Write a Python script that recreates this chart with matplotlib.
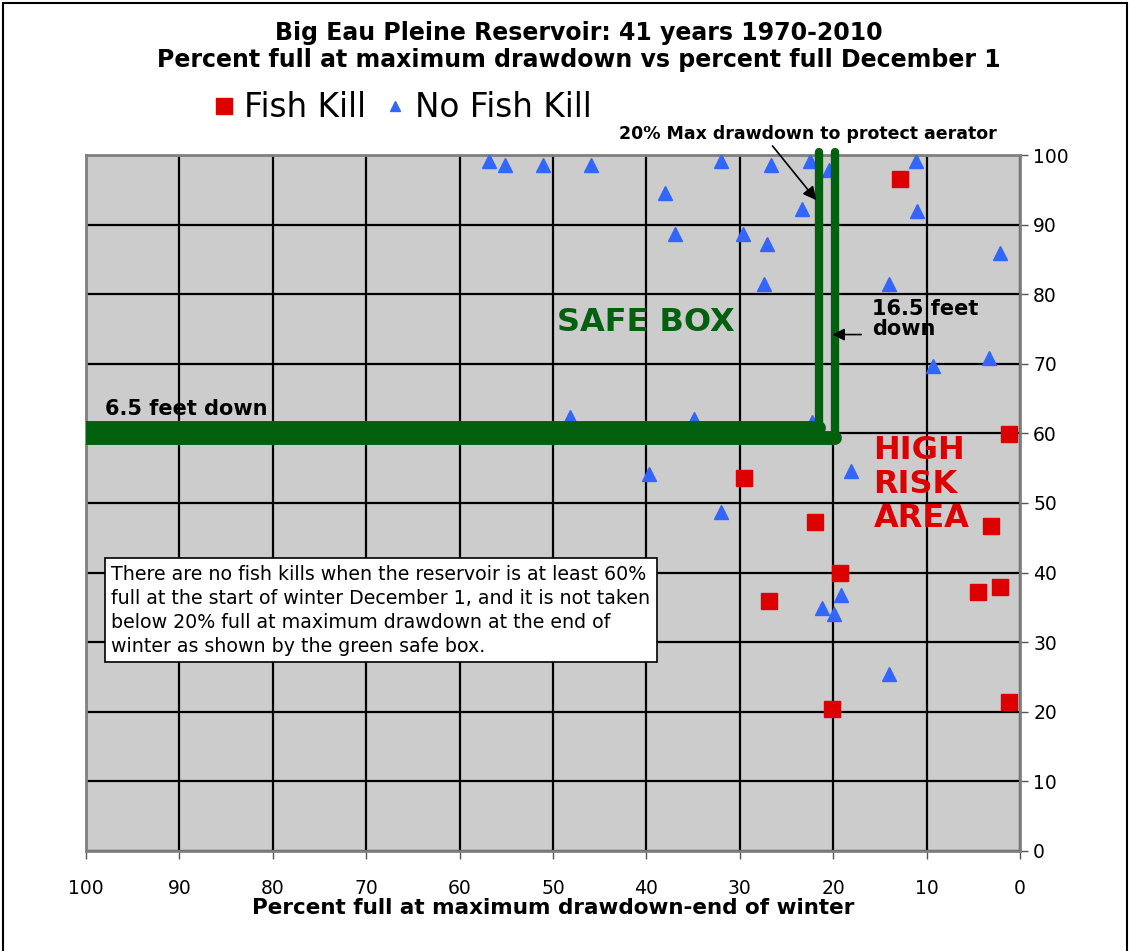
import matplotlib
matplotlib.use('Agg')
import matplotlib.pyplot as plt
import matplotlib.patches as pat

# percent full at max drawdown (x), percent full Dec 1 (y)
kill_x = [12.8, 1.2, 29.6, 21.9, 3.1, 19.3, 26.9, 4.5, 2.1, 20.1, 1.2]
kill_y = [96.5, 59.9, 53.6, 47.2, 46.7, 40.0, 35.9, 37.2, 37.9, 20.4, 21.4]

nokill_x = [56.9, 55.1, 51.1, 45.9, 32.0, 38.0, 36.9, 29.7, 26.7, 22.5,
            20.5, 11.1, 23.3, 11.0, 27.1, 2.1, 27.4, 14.0, 9.3, 3.3,
            22.3, 18.1, 32.0, 19.2, 21.2, 19.9, 14.0, 48.2, 34.9, 39.7]
nokill_y = [99.2, 98.6, 98.6, 98.6, 99.2, 94.5, 88.6, 88.6, 98.6, 99.2,
            97.8, 99.2, 92.3, 92.0, 87.2, 85.9, 81.5, 81.5, 69.7, 70.8,
            61.7, 54.6, 48.7, 36.8, 34.9, 34.1, 25.4, 62.3, 62.0, 54.1]

# safe box outline (two parallel strokes like the original)
box1_x = [100, 21.5, 21.5]
box1_y = [60.8, 60.8, 100.5]
box2_x = [100, 19.8, 19.8]
box2_y = [59.3, 59.3, 100.5]

ticks = [0, 10, 20, 30, 40, 50, 60, 70, 80, 90, 100]

green = '#03600f'
red = '#dd0000'
blue = '#3366ff'

fig = plt.figure(figsize=(11.3, 9.51), dpi=100)
ax = fig.add_axes([0.0761, 0.1052, 0.8266, 0.7318])
ax.set_facecolor('#cccccc')

ax.set_xlim(100, 0)
ax.set_ylim(0, 100)
ax.set_xticks(ticks)
ax.set_yticks(ticks)
ax.grid(True, color='black', linewidth=1.6)
ax.set_axisbelow(True)
ax.yaxis.tick_right()
ax.tick_params(axis='both', labelsize=13.5, length=6, width=1, color='#555555')
ax.tick_params(axis='x', pad=14)
for s in ax.spines.values():
    s.set_color('#808080')
    s.set_linewidth(2)

ax.plot(nokill_x, nokill_y, linestyle='none', marker='^', markersize=10,
        color=blue, label='No Fish Kill', zorder=3)
ax.plot(kill_x, kill_y, linestyle='none', marker='s', markersize=12,
        color=red, label='Fish Kill', zorder=3)

ax.plot(box1_x[:2], box1_y[:2], color=green, lw=10, solid_capstyle='round', zorder=4)
ax.plot(box2_x[:2], box2_y[:2], color=green, lw=10, solid_capstyle='round', zorder=4)
ax.plot(box1_x[1:], box1_y[1:], color=green, lw=6, solid_capstyle='round', zorder=4, clip_on=False)
ax.plot(box2_x[1:], box2_y[1:], color=green, lw=6, solid_capstyle='round', zorder=4, clip_on=False)

ax.text(98, 63.5, '6.5 feet down', fontsize=15, fontweight='bold', va='center', zorder=5)
ax.text(40.1, 76.0, 'SAFE BOX', fontsize=23, fontweight='bold', color=green,
        ha='center', va='center', zorder=5)
ax.text(15.8, 76.4, '16.5 feet\ndown', fontsize=15, fontweight='bold', va='center',
        linespacing=1.0, zorder=5)
ax.annotate('', xy=(20.4, 74.2), xytext=(16.7, 74.2),
            arrowprops=dict(arrowstyle='-|>', color='black', lw=1.2, mutation_scale=18), zorder=5)
ax.text(15.7, 52.7, 'HIGH\nRISK\nAREA', fontsize=23, fontweight='bold', color=red,
        va='center', linespacing=1.12, zorder=5)
ax.annotate('20% Max drawdown to protect aerator', xy=(21.8, 93.5), xytext=(22.7, 103.0),
            fontsize=12.5, fontweight='bold', ha='center', va='center', annotation_clip=False,
            arrowprops=dict(arrowstyle='-|>', color='black', lw=1.2, mutation_scale=20,
                            shrinkA=0, shrinkB=0, relpos=(0.4, 0.0)), zorder=5)

ax.text(97.3, 34.6,
        'There are no fish kills when the reservoir is at least 60%\n'
        'full at the start of winter December 1, and it is not taken\n'
        'below 20% full at maximum drawdown at the end of\n'
        'winter as shown by the green safe box.',
        fontsize=13.7, va='center', ha='left', linespacing=1.33, zorder=5,
        bbox=dict(boxstyle='square,pad=0.35', facecolor='white', edgecolor='black', lw=1.2))

ax.set_xlabel('Percent full at maximum drawdown-end of winter', fontsize=15.5,
              fontweight='bold', labelpad=0)

fig.text(0.512, 0.965, 'Big Eau Pleine Reservoir: 41 years 1970-2010',
         fontsize=17, fontweight='bold', ha='center', va='center')
fig.text(0.512, 0.937, 'Percent full at maximum drawdown vs percent full December 1',
         fontsize=17, fontweight='bold', ha='center', va='center')

h, l = ax.get_legend_handles_labels()
leg = fig.legend([h[1], h[0]], [l[1], l[0]], loc='center left', bbox_to_anchor=(0.178, 0.887),
                 ncol=2, frameon=False, fontsize=23.5, handlelength=0.6, handletextpad=0.3,
                 columnspacing=0.6, borderaxespad=0)
leg.legend_handles[1].set_markersize(7)

fig.patches.append(pat.Rectangle((0.003, -0.01), 0.994, 1.007, transform=fig.transFigure,
                                 fill=False, edgecolor='black', lw=1.5))

fig.savefig('out.png', dpi=100)
